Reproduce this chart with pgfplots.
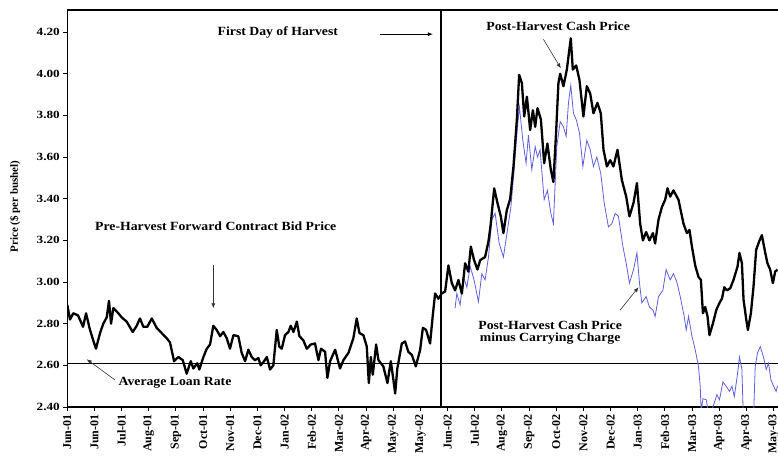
\documentclass[border=0pt]{standalone}
\usepackage{fontspec}
\setmainfont{Liberation Serif}
\usepackage{pgfplots}
\usepackage{pgfplotstable}
\pgfplotsset{compat=1.18}
\usetikzlibrary{arrows.meta}
\definecolor{carry}{RGB}{95,95,220}

% day index (trading days from Jun-01), price in $/bu
\pgfplotstableread{
d p
0 2.89
2.0 2.82
4.4 2.85
7.9 2.84
11.6 2.785
13.8 2.85
16.7 2.77
19.1 2.72
21.1 2.68
24.1 2.755
26.5 2.80
29.0 2.83
30.7 2.91
32.2 2.80
33.9 2.875
37.6 2.85
40.1 2.83
43.7 2.81
48.2 2.76
51.1 2.79
53.5 2.825
56.0 2.785
58.9 2.785
62.2 2.825
65.8 2.78
69.5 2.755
73.2 2.73
75.6 2.71
78.6 2.62
81.8 2.64
85.0 2.625
87.9 2.56
90.9 2.62
92.8 2.585
95.7 2.61
97.2 2.58
100.2 2.64
102.7 2.68
105.1 2.70
107.5 2.79
110.0 2.77
112.5 2.74
114.9 2.76
117.4 2.73
119.8 2.68
122.3 2.745
125.9 2.74
128.4 2.66
130.9 2.62
133.3 2.675
135.8 2.64
138.2 2.625
140.7 2.635
142.4 2.60
144.9 2.62
146.9 2.64
149.3 2.58
151.7 2.60
154.2 2.77
156.1 2.69
157.9 2.68
160.3 2.745
162.8 2.76
164.5 2.79
166.5 2.76
169.0 2.81
170.9 2.74
173.8 2.72
176.3 2.68
179.3 2.70
182.4 2.705
184.9 2.625
186.8 2.68
189.8 2.665
191.5 2.54
193.5 2.62
197.2 2.675
200.8 2.585
203.3 2.625
207.0 2.66
210.6 2.73
213.1 2.825
215.1 2.755
218.0 2.745
220.5 2.69
222.0 2.515
223.5 2.64
224.9 2.555
227.4 2.70
229.1 2.625
232.7 2.595
235.7 2.515
238.2 2.62
240.1 2.53
241.4 2.465
243.0 2.585
246.3 2.705
248.7 2.715
251.1 2.665
253.7 2.65
256.6 2.595
259.8 2.675
261.8 2.78
264.2 2.77
267.1 2.705
269.1 2.84
270.8 2.945
273.2 2.92
275.7 2.945
278.2 2.955
280.6 3.08
283.1 2.995
285.5 2.96
288.0 3.01
290.5 2.945
292.9 3.09
295.3 3.05
297.1 3.17
299.5 3.105
302.0 3.06
304.0 3.105
307.6 3.12
310.1 3.195
311.8 3.28
314.3 3.45
316.7 3.38
319.2 3.315
321.1 3.235
323.6 3.345
326.1 3.40
328.5 3.555
331.0 3.78
332.7 3.995
334.7 3.955
336.4 3.795
338.4 3.89
340.8 3.73
342.8 3.825
344.5 3.745
346.2 3.835
348.7 3.78
351.1 3.57
353.5 3.665
356.0 3.54
357.9 3.48
359.9 3.72
361.6 3.955
362.9 4.00
365.3 3.94
367.8 4.02
370.7 4.17
372.2 4.02
374.7 4.04
377.1 3.97
380.0 3.795
382.5 3.94
385.0 3.905
387.4 3.81
390.3 3.86
392.8 3.81
394.8 3.635
397.3 3.555
399.7 3.585
402.1 3.555
405.1 3.635
408.3 3.49
411.5 3.41
413.9 3.315
416.9 3.38
419.4 3.475
421.8 3.28
423.8 3.20
426.2 3.24
428.6 3.20
431.2 3.235
432.8 3.185
435.3 3.30
437.8 3.36
440.2 3.395
441.9 3.45
443.9 3.41
446.3 3.44
450.0 3.395
453.7 3.28
456.2 3.235
458.1 3.25
459.9 3.17
462.3 3.08
464.7 3.025
466.5 3.01
468.0 2.85
469.7 2.88
471.4 2.835
472.8 2.745
475.3 2.80
477.8 2.865
480.2 2.90
482.0 2.92
483.7 2.975
485.6 2.96
488.1 2.97
490.5 3.01
493.5 3.075
494.9 3.14
496.7 3.09
497.9 2.915
499.9 2.82
501.1 2.77
503.3 2.85
505.2 2.975
507.2 3.155
509.7 3.20
511.4 3.225
513.9 3.14
515.5 3.09
517.5 3.06
519.5 2.995
521.2 3.05
522.9 3.06
}\cashprice

\pgfplotstableread{
d p
285.5 2.875
286.8 2.945
289.2 2.89
291.7 3.025
294.2 2.975
296.6 3.075
299.5 3.01
302.7 2.905
305.2 3.04
307.6 3.01
310.1 3.12
312.6 3.30
315.0 3.33
318.0 3.185
321.1 3.12
324.1 3.25
326.6 3.36
329.0 3.54
331.4 3.745
332.9 3.84
335.4 3.68
337.8 3.57
339.5 3.705
342.0 3.54
344.5 3.65
346.2 3.60
348.1 3.635
351.1 3.395
353.5 3.44
356.0 3.33
357.9 3.28
360.4 3.65
362.9 3.77
365.3 3.745
367.3 3.70
369.0 3.86
370.7 3.945
372.7 3.81
374.7 3.78
377.1 3.715
379.6 3.555
382.5 3.68
385.0 3.635
387.4 3.555
389.9 3.60
392.8 3.52
395.3 3.38
398.4 3.265
400.9 3.28
403.4 3.33
405.8 3.315
409.1 3.17
411.5 3.09
413.9 2.995
416.9 3.06
419.4 3.14
421.3 2.995
423.0 2.90
426.2 2.93
428.6 2.88
431.2 2.865
432.8 2.835
435.3 2.93
438.5 2.96
440.9 3.06
443.9 3.01
446.3 3.04
448.8 3.00
451.3 2.93
454.2 2.835
455.7 2.77
457.4 2.835
459.9 2.74
462.3 2.675
464.7 2.595
466.0 2.50
466.7 2.38
468.0 2.44
470.4 2.435
471.9 2.38
474.9 2.39
478.3 2.46
480.2 2.435
482.7 2.52
485.1 2.50
487.6 2.475
489.4 2.50
491.1 2.45
493.5 2.56
494.9 2.64
496.7 2.58
497.6 2.38
498.4 2.30
505.0 2.30
506.5 2.595
508.2 2.66
510.2 2.69
512.6 2.64
514.6 2.58
516.3 2.61
518.1 2.53
520.0 2.50
521.9 2.475
522.9 2.50
}\minuscarry

\begin{document}
\begin{tikzpicture}
\begin{axis}[
    at={(0,0)}, anchor=south west,
    scale only axis,
    width=711pt, height=397pt,
    xmin=0, xmax=523.5,
    ymin=2.40, ymax=4.306,
    axis x line*=box, axis y line*=left,
    axis line style={-, line width=1.4pt},
    tick align=outside,
    xtick pos=bottom, ytick pos=left,
    major tick length=4pt,
    tick style={line width=1pt, black},
    ytick={2.40,2.60,2.80,3.00,3.20,3.40,3.60,3.80,4.00,4.20},
    /pgf/number format/assume math mode=true,
    yticklabel={\scalebox{1.2}[1]{\pgfmathprintnumber[fixed,fixed zerofill,precision=2]{\tick}}},
    yticklabel style={font=\fontsize{11}{12}\selectfont\bfseries},
    xtick={0,20,...,520},
    xticklabels={Jun-01,Jun-01,Jul-01,Aug-01,Sep-01,Oct-01,Nov-01,Dec-01,Jan-02,Feb-02,Mar-02,Apr-02,May-02,May-02,Jun-02,Jul-02,Aug-02,Sep-02,Oct-02,Nov-02,Dec-02,Jan-03,Feb-03,Mar-03,Apr-03,Apr-03,May-03},
    xticklabel style={rotate=90, anchor=east, font=\fontsize{12}{13}\selectfont\bfseries},
    clip=true,
  ]
  % average loan rate and first day of harvest
  \addplot[black, line width=1.4pt] coordinates {(0,2.61) (523.5,2.61)};
  \addplot[black, line width=1.4pt] coordinates {(275,2.40) (275,4.306)};
  \addplot[carry, line width=0.8pt] table[x=d, y=p] {\minuscarry};
  \addplot[black, line width=2.3pt, line join=round] table[x=d, y=p] {\cashprice};

  \begin{scope}[font=\fontsize{12.5}{14}\selectfont\bfseries]
    \node at (axis cs:155,4.199) {\scalebox{1.1}[1]{First Day of Harvest}};
    \node at (axis cs:361.4,4.23) {\scalebox{1.1}[1]{Post-Harvest Cash Price}};
    \node at (axis cs:109.3,3.27) {\scalebox{1.1}[1]{Pre-Harvest Forward Contract Bid Price}};
    \node at (axis cs:79.3,2.517) {\scalebox{1.1}[1]{Average Loan Rate}};
    \node[align=center] at (axis cs:355.5,2.757) {\scalebox{1.1}[1]{Post-Harvest Cash Price}\\[-2pt]\scalebox{1.1}[1]{minus Carrying Charge}};
  \end{scope}
  \begin{scope}[line width=0.6pt, -{Latex[length=5pt,width=4pt]}]
    \draw[black] (axis cs:230.3,4.19) -- (axis cs:269.1,4.19);
    \draw[black!80] (axis cs:350.6,4.165) -- (axis cs:363.4,4.026);
    \draw[black!80] (axis cs:107.5,3.082) -- (axis cs:107.5,2.874);
    \draw[black!80] (axis cs:35.1,2.53) -- (axis cs:14.3,2.629);
    \draw[black!80] (axis cs:407.1,2.866) -- (axis cs:420.6,2.975);
  \end{scope}
\end{axis}
\node[rotate=90, font=\fontsize{11}{12}\selectfont\bfseries] at (-52.3pt,200.5pt) {Price (\$ per bushel)};
\pgfresetboundingbox
\path[use as bounding box] (-67.3pt,-52pt) rectangle (710.7pt,407pt);
\end{tikzpicture}
\end{document}
